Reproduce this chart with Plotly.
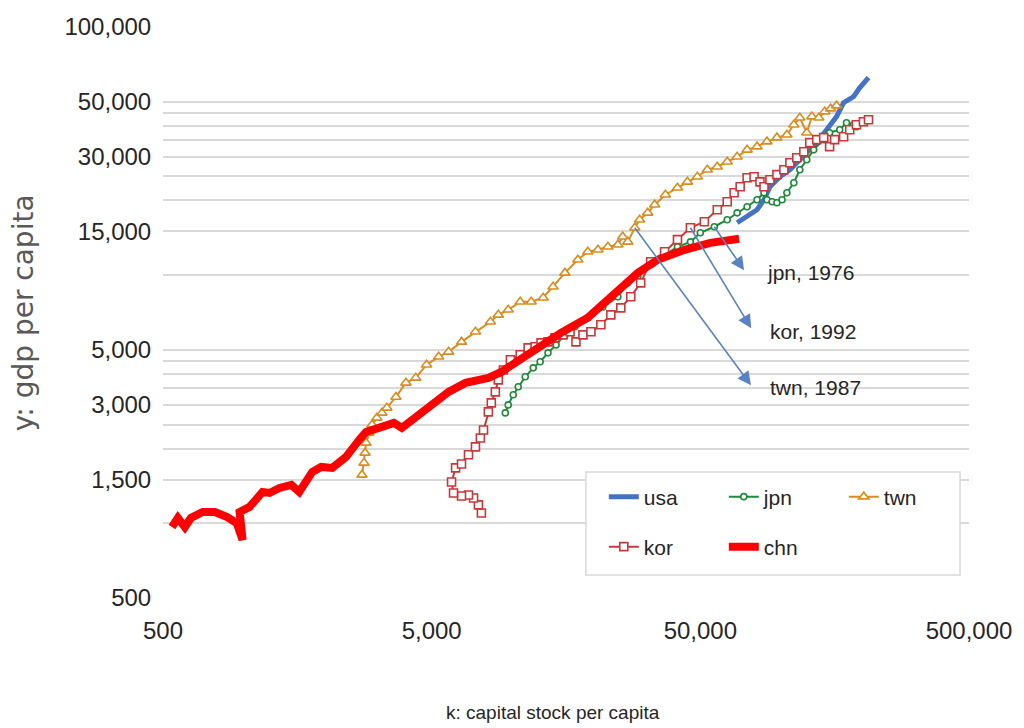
import math
import plotly.graph_objects as go

# ---------------- data ----------------
usa_k = [68550, 74650, 81280, 86300, 90800, 98900, 107700, 114300, 124500, 135600, 147600, 160700, 170700, 185900, 195900, 211300]
usa_y = [16260, 17180, 18350, 20130, 22710, 24930, 26600, 28380, 31120, 34200, 38550, 43550, 49550, 52360, 56890, 62500]

jpn_k = [9397, 9638, 10060, 10500, 11150, 11940, 12670, 13552, 14520, 15670, 17060, 19055, 21677, 24660, 26850, 29242, 32660, 36810, 41100, 45920, 50000, 56360, 62950, 68550, 74650, 81280, 86300, 88510, 92470, 96380, 100700, 105000, 111400, 117300, 124500, 132100, 143900, 151400, 165100, 175000, 185900, 190600]
jpn_y = [2786, 3000, 3295, 3548, 3894, 4230, 4477, 4862, 5236, 5745, 6194, 6730, 7447, 8180, 9311, 9840, 11010, 12080, 13010, 13620, 14820, 15670, 16720, 17830, 18870, 20130, 21480, 20130, 19770, 19590, 20130, 21480, 23560, 26600, 29170, 31990, 35160, 37500, 38550, 41120, 40360, 39630]

twn_k = [2752, 2800, 2825, 2849, 2922, 2999, 3126, 3265, 3406, 3681, 4009, 4364, 4786, 5309, 5781, 6457, 7278, 8272, 8851, 9638, 10680, 11728, 13000, 14150, 15670, 17500, 19055, 20790, 22640, 24660, 25700, 26850, 28500, 29720, 31840, 33800, 37070, 41100, 44770, 48750, 53090, 57810, 62950, 68550, 74650, 81280, 88510, 96380, 105000, 111400, 117300, 124500, 130000, 138000, 145200, 152800, 160700]
twn_y = [1567, 1752, 1922, 2109, 2314, 2493, 2660, 2786, 2919, 3229, 3681, 3855, 4355, 4688, 4909, 5383, 5911, 6486, 6920, 7250, 7810, 7810, 8110, 8980, 10210, 11535, 12420, 12650, 13010, 13250, 14290, 13620, 15520, 16720, 17830, 19230, 21090, 22490, 23770, 24930, 26600, 27350, 28640, 29990, 31990, 32950, 34510, 35810, 36810, 40360, 43060, 37500, 43550, 43060, 45600, 46880, 48200]

kor_k = [7656, 7464, 7161, 6855, 6457, 6030, 5929, 6138, 6457, 6855, 7278, 7590, 7798, 8128, 8337, 8630, 8851, 9247, 9817, 10680, 11430, 12130, 12770, 13552, 14390, 15420, 16370, 17220, 18280, 19580, 21320, 23220, 25290, 27540, 29990, 32660, 36810, 41100, 45920, 51760, 57810, 62950, 66800, 70340, 74650, 79250, 83370, 86300, 90800, 96380, 102300, 107700, 114300, 121400, 127700, 135600, 143900, 151400, 158100, 170700, 179900, 190600, 202300, 211300]
kor_y = [1101, 1186, 1265, 1301, 1289, 1325, 1468, 1672, 1734, 1888, 2032, 2208, 2377, 2812, 3057, 3386, 3784, 4150, 4560, 4775, 5093, 5143, 5333, 5383, 5586, 5745, 5911, 5383, 5745, 5911, 6310, 6920, 7380, 8180, 9311, 11320, 12420, 13900, 15520, 16410, 18350, 19770, 21480, 22710, 24700, 24930, 23770, 22710, 24230, 25410, 26600, 28380, 29720, 31420, 34200, 35160, 35810, 32950, 35160, 36140, 38550, 40360, 41500, 42270]

chn_k = [540, 568, 603, 635, 703, 779, 863, 940, 989, 964, 1050, 1173, 1245, 1357, 1502, 1608, 1797, 1940, 2133, 2400, 2685, 2849, 3265, 3615, 3873, 4364, 5000, 5781, 6683, 7464, 8128, 9085, 10233, 11728, 13552, 15136, 19055, 21677, 24660, 29242, 34674, 43652, 54450, 69700]
chn_y = [966, 1051, 966, 1051, 1111, 1111, 1061, 1003, 857, 1111, 1164, 1337, 1325, 1388, 1428, 1337, 1611, 1687, 1672, 1852, 2168, 2335, 2448, 2540, 2423, 2685, 3057, 3386, 3681, 3750, 3855, 4074, 4433, 4862, 5333, 5856, 6730, 7586, 8730, 10210, 11535, 12650, 13500, 14020]

x_tick_vals = [500, 5000, 50000, 500000]
x_tick_text = ["500", "5,000", "50,000", "500,000"]
y_tick_vals = [500, 1500, 3000, 5000, 15000, 30000, 50000, 100000]
y_tick_text = ["500", "1,500", "3,000", "5,000", "15,000", "30,000", "50,000", "100,000"]
y_grid_vals = [1000, 1500, 2000, 2500, 3000, 3500, 4000, 4500, 5000,
               10000, 15000, 20000, 25000, 30000, 35000, 40000, 45000, 50000]

# annotated points: label, (k, y) of the data point, arrow tip (k, y), label position (k, y)
notes = [
    ("jpn, 1976", (56360, 15670), (73400, 10320), (87000, 10210)),
    ("kor, 1992", (45920, 15520), (77940, 6020), (89500, 5911)),
    ("twn, 1987", (28500, 15520), (77940, 3548), (89500, 3515)),
]

SANS = "Liberation Sans, Arial, sans-serif"
WIDE = "DejaVu Sans, Verdana, sans-serif"
TXT = "#262626"

C_USA = "#4472C4"
C_JPN = "#1E8A3A"
C_TWN = "#D98C1F"
C_KOR = "#C8383A"
C_CHN = "#FF0000"

fig = go.Figure()

fig.add_trace(go.Scatter(x=usa_k, y=usa_y, name="usa", mode="lines",
                         line=dict(color=C_USA, width=5), legend="legend"))
fig.add_trace(go.Scatter(x=jpn_k, y=jpn_y, name="jpn", mode="lines+markers",
                         line=dict(color=C_JPN, width=2),
                         marker=dict(symbol="circle", size=6, color="white",
                                     line=dict(color=C_JPN, width=1.6)),
                         legend="legend"))
fig.add_trace(go.Scatter(x=twn_k, y=twn_y, name="twn", mode="lines+markers",
                         line=dict(color=C_TWN, width=2),
                         marker=dict(symbol="triangle-up", size=9, color="white",
                                     line=dict(color=C_TWN, width=1.6)),
                         legend="legend"))
fig.add_trace(go.Scatter(x=kor_k, y=kor_y, name="kor", mode="lines+markers",
                         line=dict(color=C_KOR, width=2),
                         marker=dict(symbol="square", size=8, color="white",
                                     line=dict(color=C_KOR, width=1.6)),
                         legend="legend2"))
fig.add_trace(go.Scatter(x=chn_k, y=chn_y, name="chn", mode="lines",
                         line=dict(color=C_CHN, width=8), legend="legend2"))

for label, pt, tip, pos in notes:
    fig.add_annotation(x=math.log10(pt[0]), y=math.log10(pt[1]),
                       ax=math.log10(tip[0]), ay=math.log10(tip[1]),
                       xref="x", yref="y", axref="x", ayref="y",
                       text="", showarrow=True, arrowside="start",
                       startarrowhead=2, startarrowsize=1.7,
                       arrowwidth=1.6, arrowcolor="#5A82C2")
    fig.add_annotation(x=math.log10(pos[0]), y=math.log10(pos[1]),
                       xref="x", yref="y", text=label, showarrow=False,
                       xanchor="left", yanchor="middle",
                       font=dict(family=SANS, size=21, color=TXT))

# axis titles
fig.add_annotation(x=(555 - 163) / 810, y=-(712 - 598) / 571, xref="paper", yref="paper",
                   text="k: capital stock per capita", showarrow=False,
                   xanchor="center", yanchor="middle",
                   font=dict(family=SANS, size=19, color=TXT))
fig.add_annotation(x=-(163 - 23) / 810, y=0.5, xref="paper", yref="paper",
                   text="y: gdp per capita", showarrow=False, textangle=-90,
                   xanchor="center", yanchor="middle",
                   font=dict(family=WIDE, size=28, color="#595959"))

# legend frame
fig.add_shape(type="rect", xref="paper", yref="paper",
              x0=(588 - 163) / 810, x1=(964 - 163) / 810,
              y0=(598 - 575) / 571, y1=(598 - 472) / 571,
              line=dict(color="#D9D9D9", width=1.5), fillcolor="white", layer="above")

legend_common = dict(orientation="h", bgcolor="rgba(0,0,0,0)", borderwidth=0,
                     font=dict(family=SANS, size=21, color=TXT),
                     entrywidth=75, entrywidthmode="pixels",
                     xanchor="left", yanchor="middle", traceorder="normal")

fig.update_layout(
    width=1024, height=728,
    margin=dict(l=163, r=51, t=27, b=130),
    paper_bgcolor="white", plot_bgcolor="white",
    showlegend=True,
    legend=dict(x=(606 - 163) / 810, y=(598 - 497) / 571, **legend_common),
    legend2=dict(x=(606 - 163) / 810, y=(598 - 547) / 571, **legend_common),
    xaxis=dict(type="log", range=[math.log10(500), math.log10(500000)],
               tickmode="array", tickvals=x_tick_vals, ticktext=x_tick_text,
               showgrid=False, zeroline=False, showline=False,
               ticks="outside", ticklen=11, tickcolor="rgba(0,0,0,0)",
               ticklabeloverflow="allow",
               tickfont=dict(family=SANS, size=24, color=TXT)),
    yaxis=dict(type="log", range=[math.log10(500), math.log10(100000)],
               tickmode="array", tickvals=y_tick_vals, ticktext=y_tick_text,
               showgrid=False, zeroline=False, showline=False,
               ticks="outside", ticklen=6, tickcolor="rgba(0,0,0,0)",
               ticklabeloverflow="allow",
               tickfont=dict(family=SANS, size=24, color=TXT),
               minor=dict(tickmode="array", tickvals=y_grid_vals, showgrid=True,
                          gridcolor="#D9D9D9", gridwidth=1.5, ticks="")),
)

fig.write_html("out.html", config={"displayModeBar": False},
               post_script="document.body.style.margin='0px';")
